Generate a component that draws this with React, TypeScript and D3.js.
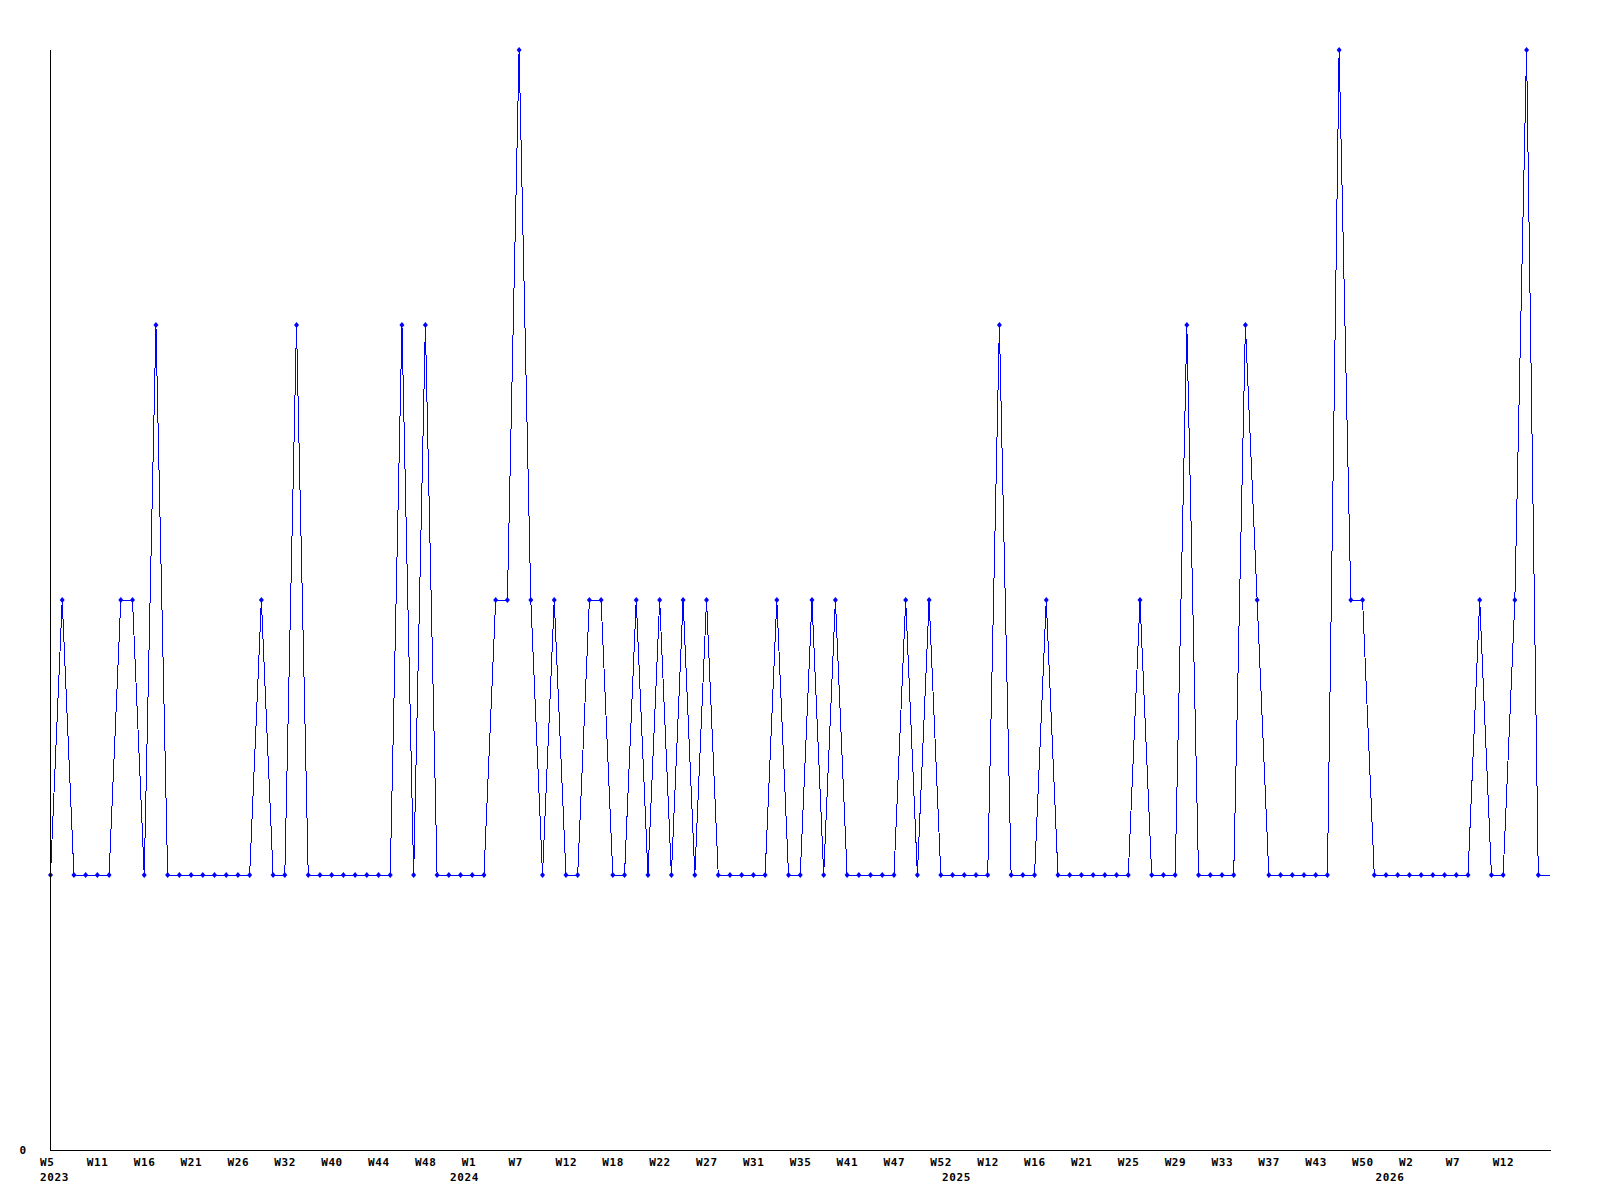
import React from 'react';
import * as d3 from 'd3';

// one value per data point (weekly entries, gaps skipped)
const values: number[] = [
  1, 2, 1, 1, 1, 1, 2, 2, 1, 3,
  1, 1, 1, 1, 1, 1, 1, 1, 2, 1,
  1, 3, 1, 1, 1, 1, 1, 1, 1, 1,
  3, 1, 3, 1, 1, 1, 1, 1, 2, 2,
  4, 2, 1, 2, 1, 1, 2, 2, 1, 1,
  2, 1, 2, 1, 2, 1, 2, 1, 1, 1,
  1, 1, 2, 1, 1, 2, 1, 2, 1, 1,
  1, 1, 1, 2, 1, 2, 1, 1, 1, 1,
  1, 3, 1, 1, 1, 2, 1, 1, 1, 1,
  1, 1, 1, 2, 1, 1, 1, 3, 1, 1,
  1, 1, 3, 2, 1, 1, 1, 1, 1, 1,
  4, 2, 2, 1, 1, 1, 1, 1, 1, 1,
  1, 1, 2, 1, 1, 2, 4, 1, 1,
];

// a week label under every 4th point
const tickLabels: string[] = [
  'W5', 'W11', 'W16', 'W21', 'W26', 'W32', 'W40', 'W44', 'W48',
  'W1', 'W7', 'W12', 'W18', 'W22', 'W27', 'W31', 'W35', 'W41', 'W47', 'W52',
  'W12', 'W16', 'W21', 'W25', 'W29', 'W33', 'W37', 'W43', 'W50',
  'W2', 'W7', 'W12',
];
const tickEvery = 4;

// first point of each year
const yearLabels: string[] = ['2023', '2024', '2025', '2026'];
const yearStarts: number[] = [0, 35, 77, 114];

const yTicks: number[] = [0];

const W = 1600;
const H = 1200;
const margin = { top: 50, right: 50, bottom: 50, left: 50.5 };
const font = '"DejaVu Sans Mono", monospace';

export default function App() {
  const x = d3.scaleLinear()
    .domain([0, values.length - 1])
    .range([margin.left, W - margin.right]);
  const y = d3.scaleLinear()
    .domain([0, 4])
    .range([H - margin.bottom, margin.top]);

  const line = d3.line<number>()
    .x((_, i) => x(i))
    .y(d => y(d));

  const axisY = Math.round(y(0)) + 0.5;
  const marker = 'M-2.5,0L0,-3L2.5,0L0,3Z';

  const labelStyle: React.CSSProperties = {
    fontFamily: font,
    fontSize: 11,
    fontWeight: 'bold',
    letterSpacing: 0.6,
  };

  return (
    <div style={{ position: 'absolute', left: 0, top: 0 }}>
      <svg width={W} height={H} style={{ display: 'block', background: '#fff' }}>
        <path
          d={line(values) || ''}
          fill="none"
          stroke="#0000ff"
          strokeWidth={1}
          shapeRendering="crispEdges"
        />
        {values.slice(0, -1).map((v, i) => (
          <path key={i} d={marker} transform={`translate(${x(i)},${y(v)})`} fill="#0000ff" />
        ))}

        {/* axes */}
        <line x1={margin.left} x2={margin.left} y1={margin.top} y2={axisY}
          stroke="#000" strokeWidth={1} shapeRendering="crispEdges" />
        <line x1={margin.left} x2={W - margin.right + 1} y1={axisY} y2={axisY}
          stroke="#000" strokeWidth={1} shapeRendering="crispEdges" />

        {yTicks.map(t => (
          <text key={t} x={19.5} y={y(t) + 4} style={labelStyle}>{t}</text>
        ))}

        {tickLabels.map((lab, i) => (
          <text key={i} x={x(i * tickEvery) - 10.5} y={1165.5} style={labelStyle}>{lab}</text>
        ))}

        {yearLabels.map((yr, i) => (
          <text key={yr} x={x(yearStarts[i]) - 10.5} y={1180.5} style={labelStyle}>{yr}</text>
        ))}
      </svg>
    </div>
  );
}
